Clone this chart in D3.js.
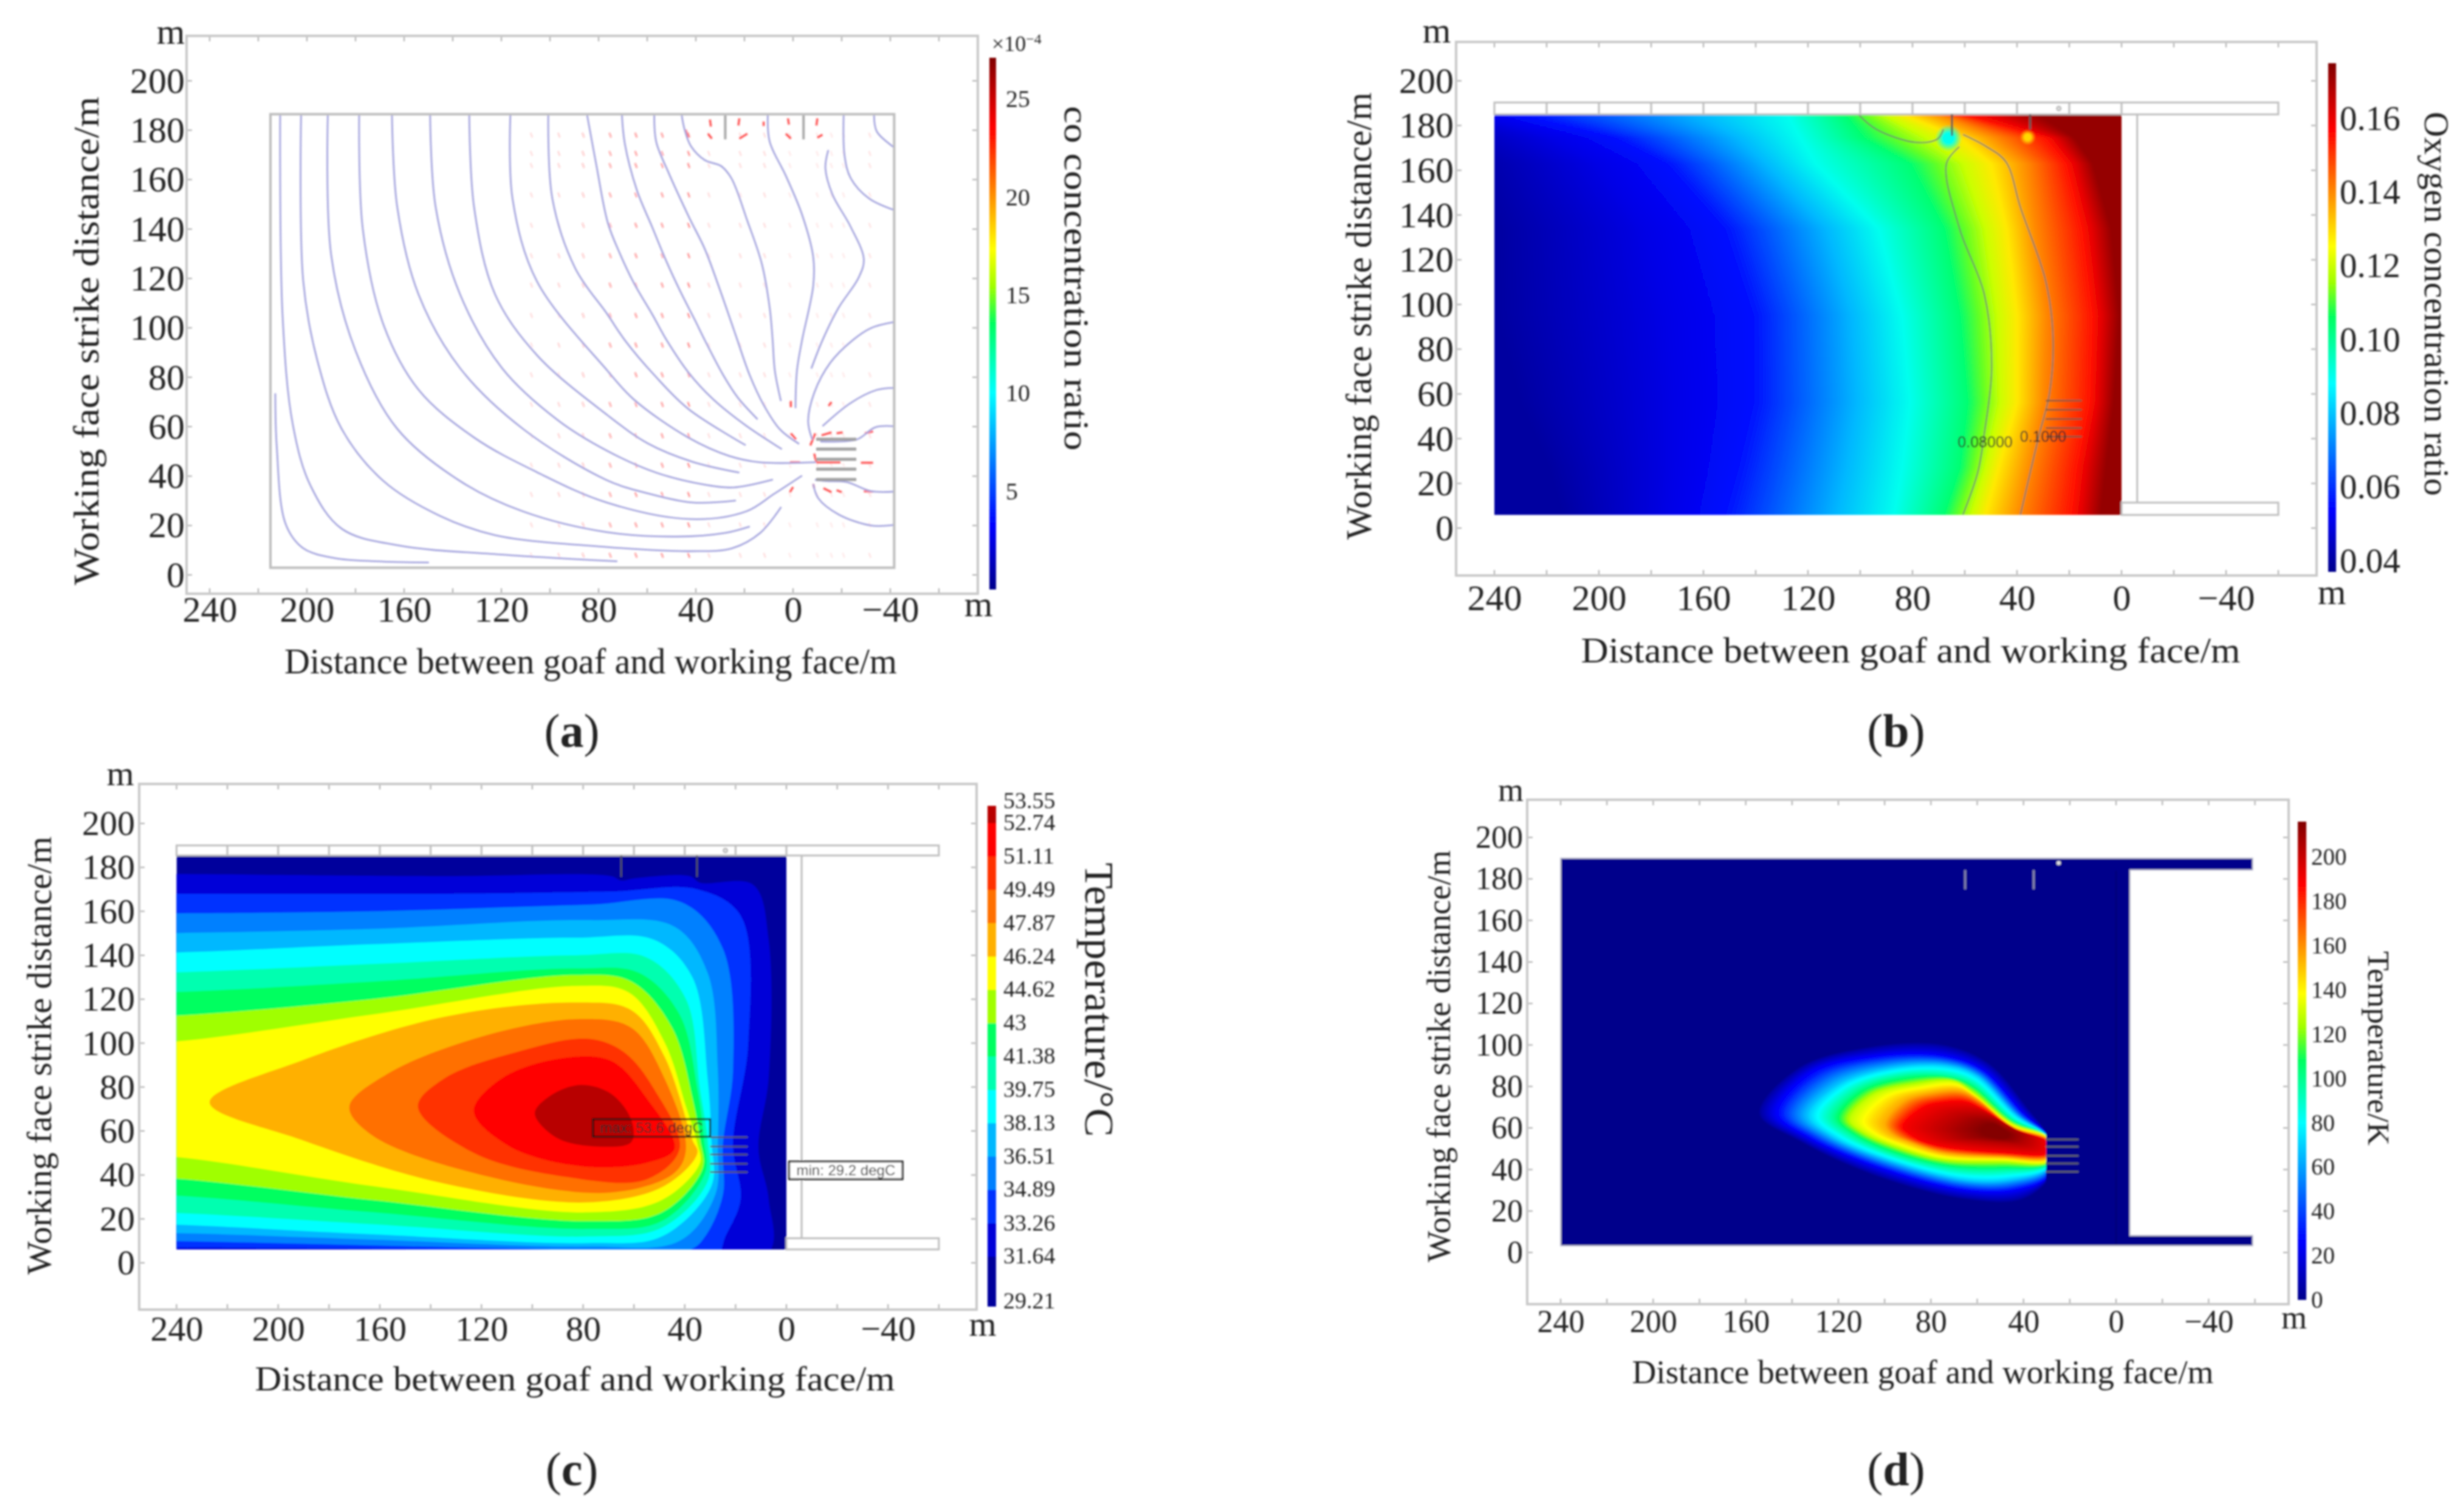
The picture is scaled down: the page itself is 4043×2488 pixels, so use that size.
<!DOCTYPE html>
<html>
<head>
<meta charset="utf-8">
<script src="https://cdn.jsdelivr.net/npm/d3@7"></script>
<style>
  html, body { margin: 0; background: #fff; }
  text { font-family: "Liberation Serif", serif; fill: #222; }
</style>
</head>
<body>
<div id="chart"></div>
<script>
// axis labels shared by the four panels
var xTicks = [240, 200, 160, 120, 80, 40, 0, -40],
    yTicks = [0, 20, 40, 60, 80, 100, 120, 140, 160, 180, 200],
    gridX = [240, 220, 200, 180, 160, 140, 120, 100, 80, 60, 40, 20, 0, -20, -40, -60],
    gridY = [200, 180, 160, 140, 120, 100, 80, 60, 40, 20, 0],
    xTitle = "Distance between goaf and working face/m",
    yTitle = "Working face strike distance/m";

// rainbow colour table, t in [0, 1]
var jetStops = [0, 0.12, 0.37, 0.5, 0.57, 0.64, 0.87, 1],
    jetColors = ["#00008b", "#0000ff", "#00ffff", "#00ff60", "#a0ff00", "#ffff00", "#ff0000", "#800000"];

// (a) co concentration: streamlines in chart units
var coTicks = [5, 10, 15, 20, 25],
    coRange = [0, 27.1],
    coLines = [
  [[213,73.5],[212.4,52],[208.7,20.5],[201.5,10.8],[188.6,6.8],[171.4,5.5],[149.8,5]],
  [[211,186],[210,104.8],[205.8,60.9],[198.6,36.3],[185.7,18.7],[162.8,12],[119.7,8.2],[72.3,5.5]],
  [[202.4,186],[201.5,118.9],[195.8,87.2],[185.7,59.1],[168.5,38],[145.5,24],[122.6,16.1],[76.7,11.3],[42.2,9.6],[25,10.8],[13.5,17],[4.9,27.5]],
  [[191.4,186],[190,129.4],[180,90.8],[162.8,59.1],[137,38],[111.1,25.7],[76.7,17.3],[47.9,15.5],[27.9,17],[17.8,19.6]],
  [[178.5,186],[177,140],[168.5,101.3],[154.1,75],[131.2,55.6],[105.4,41.6],[76.7,29.3],[42.2,22.6],[19.3,25.7],[7.8,32.8],[-3.7,40.2]],
  [[165,186],[162.8,148.7],[154.1,113.6],[137,83.7],[111.1,59.1],[76.7,38.4],[59.7,33],[41.4,29.3],[23.5,30.1]],
  [[149.3,186],[147,148.7],[137,113.6],[119.7,83.7],[96.7,62.6],[76.4,50.2],[56.3,41.4],[36.2,36.5],[24.7,35.4],[8.3,38.6]],
  [[133.2,186],[131.2,148.7],[122.6,113.6],[105.4,89],[76.4,64.7],[59.7,53.2],[41.4,45.8],[22.1,41.4]],
  [[116.3,186],[115.4,152.2],[105.4,118.9],[76.4,82.7],[65.5,71],[43.1,55.6],[26.4,48.2],[13.8,45.6],[-9.4,45.6]],
  [[100.7,186],[99,152.2],[89.6,124.1],[76.4,105.5],[69.2,95],[57.1,80.9],[43.1,67.2],[19.5,52.5]],
  [[84.7,186],[81,166.3],[76.2,142.5],[71.3,130.2],[65.4,118],[58,105.6],[52,95],[43,81.9],[33,71.2],[19.6,60.6],[4.6,50.9]],
  [[70.4,186],[69.2,174.5],[64.2,155.6],[58,140.9],[52.1,126.9],[46.3,114.6],[40.4,103.2],[36.3,95],[28.8,81],[22.9,72],[14.6,63]],
  [[57.1,186],[56.3,175.3],[51.3,163],[42.9,145],[36.3,131.9],[30.4,116.3],[24.6,99.9],[22.9,95],[17.9,81],[12.1,68.8],[5.4,58.9],[-2.5,53]],
  [[45.8,186],[44.6,180.2],[42.1,173.7],[36.3,167.9],[29.6,165.5],[25.4,160.6],[18.8,143.3],[12.9,126.1],[9.6,108],[8.4,95],[7.5,82.7],[5,70.4]],
  [[10.4,186],[9.6,175.3],[2.9,161.4],[-3.7,145.8],[-8.3,128.6],[-8.3,117.1],[-3.7,95],[-1.6,82.7],[-1,67.5]],
  [[-14.5,172],[-13.3,164.7],[-16.2,154],[-23.7,140.9],[-29.1,127.8],[-27,120.4],[-18.7,108.1],[-12.1,95],[-7.5,83.5]],
  [[-20.8,186],[-21.2,169.6],[-23.7,160.6],[-31.2,152.4],[-41.2,147.8]],
  [[-33.3,186],[-34.5,179.4],[-41.2,173.3]],
  [[-41.2,102.3],[-32,99.9],[-24.5,95],[-15.4,86],[-8.7,73.7],[-6.2,62.2],[-7.9,54.8]],
  [[-41.2,75.7],[-34.5,74.9],[-23.7,69.6],[-12.1,60.2]],
  [[-41.2,60.2],[-33.7,59.7],[-26.2,54.8],[-11.2,54]],
  [[-41.2,33.7],[-32,33.9],[-22,37.6],[-13.7,38],[-9,38.5]],
  [[-41.2,20.2],[-32,20],[-18.7,24.5],[-10.4,31],[-8.3,36.8]]
];
var coGates = [54.9, 50.9, 46.8, 42.8, 38.6],
    coStems = [27.9, -4.3],
    arrowCols = [108, 96.7, 86.7, 75.6, 65, 54.2, 43.3, 35, 22.1, 12.1, 1.7, -9.6, -15.4, -20.4, -31.2],
    arrowRows = [179, 171.6, 166.7, 154.8, 142.5, 130.2, 118.3, 106, 94, 82, 70, 57.3, 45.4, 33.5, 21.2, 8.9],
    arrowWeight = [0.12, 0.15, 0.22, 0.35, 0.4, 0.4, 0.45, 0.12, 0.12, 0.12, 0.08, 0.08, 0.08, 0.08, 0.1],
    coArrows = [
  [34.2,184.3,33.8,181.5],[22.1,184.8,22.5,181.9],[12.1,183.5,12.1,181.7],[2.1,184.8,1.7,182.3],[-10,184.8,-9.6,181.9],
  [44.2,180.2,43.3,177],[35,178.6,33.4,176.6],[22.1,176.6,18.8,178.6],[3,178.6,0.9,176.6],[-10,177,-12.1,178.2],
  [0.9,57.3,-1.2,54.8],[-7.1,52.4,-9.1,57.3],[-11.7,56.5,-15.8,57.7],[-17.9,57.3,-20.4,57.7],[-8.7,49.1,-9.5,45.8],
  [1.3,45.6,-2.9,45.6],[-9.5,45.6,-19.5,45.6],[-27.9,45.4,-32.9,45.4],[-8.3,36.8,-8.7,35.1],[-12.5,35.1,-15.8,33.5],
  [-17.9,34.3,-20,33.5],[0,35.6,1.3,33.5],[-14.6,68.4,-15.8,70],[0.9,70.4,0.9,67.9],[-29.5,57.3,-32.9,58.1],[-29.1,33.9,-32.9,33.7]
];

// (b) oxygen: distance where each level is reached, one row of distances per strike position
var oxTicks = [0.04, 0.06, 0.08, 0.10, 0.12, 0.14, 0.16],
    oxRange = [0.037, 0.175],
    oxLevels = [0.04, 0.055, 0.09, 0.104, 0.128, 0.14, 0.155, 0.172],
    oxRows = [185, 174.4, 162.8, 133.7, 94.8, 56, 26.9, 6],
    oxDist = [
  [277, 233, 128, 106, 84, 70, 61, 32],
  [264, 195, 123, 99, 62, 48, 29, 18],
  [250, 175, 117, 81, 50, 36, 21, 11],
  [240, 153, 93, 68, 44, 33, 15, 4],
  [239, 142, 84, 62, 40, 29, 11, 1],
  [230, 142, 81, 59, 40, 30, 12, 3],
  [219, 148, 84, 62, 47, 35, 17, 6],
  [214, 153, 87, 68, 52, 39, 19, 8]
];
var oxContours = [
  [[62,170.5],[67,163],[62,134],[52.5,104.5],[49.7,71.5],[52.5,42.4],[55,25],[60.7,6]],
  [[60.7,176],[51.6,170.5],[44.2,163.7],[38.7,143.4],[29,110.4],[26.2,85],[27.6,60],[31.8,40.5],[38.7,6]],
  [[100.7,185],[93.8,178.3],[78.7,172.5],[70.4,174],[68.2,178.3]]
];
var oxGates = [57, 52.9, 48.8, 44.8, 40.9],
    oxStems = [[64.9, 175.4], [35, 178.3]],
    oxBlobs = [[66.2, 174.4, 0.09], [35.9, 174.8, 0.13]],
    oxLabels = [[52.2, 38.5, "0.08000"], [30, 40.9, "0.1000"]];

// (c) temperature: filled contours, coolest first
var tempTicks = [29.21, 31.64, 33.26, 34.89, 36.51, 38.13, 39.75, 41.38, 43, 44.62, 46.24, 47.87, 49.49, 51.11, 52.74, 53.55],
    tempColors = ["#00009c", "#0000d8", "#0030ff", "#0080ff", "#00b8ff", "#00ffff", "#00ffb0", "#00ff60",
                  "#a0ff00", "#ffff00", "#ffb000", "#ff7000", "#ff3000", "#ff0000", "#b80000"],
    tempContours = [
  [[300,177],[248,177],[135,176],[69,176],[65,174],[60,175],[38,176],[34,173],[13,172],[7,147],[7,84],[11,52],[7,29],[8,3],[248,3],[300,3]],
  [[300,168],[248,168],[134,168],[69,169],[35,170],[18,158],[15,100],[21,54],[18,29],[24,12],[28,3],[134,6],[248,7],[300,7]],
  [[300,159],[248,159],[163,160],[78,163],[41,164],[25,143],[21,88],[25,54],[25,31],[32,12],[38,6],[106,6.6],[248,10],[300,10]],
  [[300,150],[248,150],[163,152],[78,156],[44,153],[31,132],[27,88],[27,54],[28,31],[42,10],[78,7.4],[163,10.6],[248,13.7],[300,13.7]],
  [[300,141],[248,141],[163,145],[83,148],[52,147],[37,130],[31,84],[29.5,56],[29.5,35],[49,12],[78,9],[163,13],[248,17.6],[300,17.6]],
  [[300,132],[248,132],[163,136],[83,140],[55,139],[39.5,120],[34,79],[31,56],[31,37],[49,16],[78,12],[163,17.6],[248,23],[300,23]],
  [[300,123],[248,123],[163,128],[83,134],[58,132],[42,113],[35,79],[32.4,56],[32,41],[49,19],[78,15.4],[163,23],[248,31],[300,31]],
  [[300,112],[248,112],[163,120],[83,131],[61,128],[45,107],[37,75],[34,56],[33,43],[49,23],[78,19],[163,28.6],[248,39],[300,39]],
  [[300,100],[248,100],[163,113],[83,126],[62,123],[48,100.5],[39.5,71],[35,54],[34,45.5],[49,28.6],[78,23],[163,35],[248,49],[300,49]],
  [[227,73],[191,92],[134.5,112],[83,118.5],[61,115],[48,94],[37,56],[35,50],[48,35],[78,27.5],[134.5,36],[191,56]],
  [[172,71],[157,86],[120,103],[81,111],[61,107],[48,84],[39.5,52],[44,41],[69,32],[120,40],[163,58]],
  [[145,71],[134.5,84],[106,96],[78,102],[64,96],[52,79],[42,52],[55,38],[86,39],[123,50]],
  [[123,69],[112,84],[89,93],[69,92],[55,75],[44,52],[55,45.5],[81,44],[109,53]],
  [[99,68],[93,76],[81,81],[69,77],[61,65],[61,55],[75,53],[90.5,57]]
];
var tempGates = [57.2, 52.9, 49.3, 45.1, 41.3],
    tempStems = [[65, 175.7], [35.2, 175.7]],
    tempBoxes = [[76.1, 65.4, 30, 57.4, "max: 53.6 degC"], [-1.1, 46.1, -45.7, 38.1, "min: 29.2 degC"]];

// (d) temperature rise: closed contours, same number of points on each
var heatTicks = [0, 20, 40, 60, 80, 100, 120, 140, 160, 180, 200],
    heatRange = [0, 216],
    heatLevels = [5, 25, 70, 100, 130, 155, 190, 205, 216],
    heatContours = [
  [[154,67],[137,89],[106,99],[75,100],[55,91],[38,69],[29,55],[28,38],[40,26],[66,26],[106,38],[137,54]],
  [[147,67],[132,87],[103,95],[75,95],[57.5,88],[40,67],[29,55],[29,37],[43,30],[66,30],[103,41],[134,56]],
  [[133,66],[120,81],[97,89],[73,90],[60,85],[43,66],[29,55],[29,41],[46,35],[66,35],[100,45],[123,56]],
  [[122,65],[112,78],[92,85],[73,85],[62,81],[45,64],[29,55],[29,43],[49,40],[72,41],[97,48],[114.5,57]],
  [[114.5,64],[104.5,76],[86,81],[70,82.5],[62,77],[45,62],[29,55],[29,44],[49,44],[75,45],[94.5,51],[109,58]],
  [[100,62],[92,73],[80,77],[67.5,78],[60,74],[45,60.5],[29,54],[29,46],[49,46],[75,48],[89,53],[97,57]],
  [[92,60.5],[83,70],[73,72.6],[65,72.6],[57.5,69],[43,59.4],[29,53],[29,48],[49,48],[75,51],[84.6,54],[89,57]],
  [[72,59.4],[66,65],[59,66],[53,65],[48,61.6],[42,58.3],[39,56],[40.4,53],[49,53],[60,54],[67.5,55],[70,57]],
  [[57.5,59.4],[54.7,61.6],[52,61.6],[50.4,60.5],[49,59.4],[47.6,58.3],[46.7,57],[47.6,55.6],[50.4,55],[53,55.6],[55.5,56.5],[57,58]]
];
var heatOutline = [[240,190],[-59,190],[-59,184.3],[-6,184.3],[-6,8.2],[-59,8.2],[-59,3.2],[240,3.2]],
    heatGates = [54.5, 51, 46.6, 42.9, 38.9],
    heatStems = [[65.2, 175], [35.6, 175]];

var jet = d3.scaleLinear().domain(jetStops).range(jetColors).clamp(true);

var svg = d3.select("#chart").append("svg")
    .attr("width", 4043)
    .attr("height", 2488);
var defs = svg.append("defs");

// the source image is an upscaled bitmap, a slight blur gets closer to it
defs.append("filter").attr("id", "soft")
    .attr("filterUnits", "userSpaceOnUse")
    .attr("x", 0).attr("y", 0).attr("width", 4043).attr("height", 2488)
  .append("feGaussianBlur").attr("stdDeviation", 1.4);

var root = svg.append("g").attr("filter", "url(#soft)");

function titleText(g, px, py, rotate, label, size, len) {
  return g.append("text")
      .attr("transform", "translate(" + px + "," + py + ") rotate(" + rotate + ")")
      .attr("text-anchor", "middle")
      .attr("textLength", len)
      .attr("lengthAdjust", "spacingAndGlyphs")
      .attr("font-size", size)
      .text(label);
}

function addPanel(o) {
  var g = root.append("g"),
      x = d3.scaleLinear().domain([240, 0]).range(o.x),
      y = d3.scaleLinear().domain([0, 200]).range(o.y),
      f = o.frame,
      ticks = g.append("g").attr("stroke", "#aaa").attr("stroke-width", 2);

  g.append("rect")
      .attr("x", f[0]).attr("y", f[2])
      .attr("width", f[1] - f[0]).attr("height", f[3] - f[2])
      .attr("fill", "none").attr("stroke", "#c8c8c8").attr("stroke-width", 4);

  ticks.selectAll(".tx").data(gridX.filter(function(d) { return x(d) > f[0] && x(d) < f[1]; }))
    .enter().append("path")
      .attr("d", function(d) {
        return "M" + x(d) + "," + f[3] + "v-9M" + x(d) + "," + f[2] + "v9";
      });
  ticks.selectAll(".ty").data(gridY.filter(function(d) { return y(d) > f[2] && y(d) < f[3]; }))
    .enter().append("path")
      .attr("d", function(d) {
        return "M" + f[0] + "," + y(d) + "h9M" + f[1] + "," + y(d) + "h-9";
      });

  g.append("g")
      .attr("transform", "translate(0," + f[3] + ")")
      .call(d3.axisBottom(x).tickValues(xTicks).tickSize(0).tickPadding(o.padX)
        .tickFormat(function(d) { return d < 0 ? "\u2212" + (-d) : d; }))
      .call(function(a) {
        a.select(".domain").remove();
        a.attr("font-family", null).attr("font-size", o.tickSize);
      });
  g.append("g")
      .attr("transform", "translate(" + f[0] + ",0)")
      .call(d3.axisLeft(y).tickValues(yTicks).tickSize(0).tickPadding(o.padY))
      .call(function(a) {
        a.select(".domain").remove();
        a.attr("font-family", null).attr("font-size", o.tickSize);
      });

  titleText(g, o.xTitle[0], o.xTitle[1], 0, xTitle, o.titleSize, o.xTitle[2]);
  titleText(g, o.yTitle[0], o.yTitle[1], -90, yTitle, o.titleSize, o.yTitle[2]);
  titleText(g, o.cTitle[0], o.cTitle[1], 90, o.cTitle[3], o.cTitle[4], o.cTitle[2]);

  g.selectAll(".unit").data(o.units)
    .enter().append("text")
      .attr("x", function(d) { return d[0]; })
      .attr("y", function(d) { return d[1]; })
      .attr("text-anchor", "middle")
      .attr("font-size", o.titleSize)
      .text("m");

  var lab = g.append("text")
      .attr("x", o.letter[0]).attr("y", o.letter[1])
      .attr("text-anchor", "middle")
      .attr("font-size", 78);
  lab.append("tspan").text("(");
  lab.append("tspan").attr("font-weight", "bold").text(o.letter[2]);
  lab.append("tspan").text(")");

  return {g: g, x: x, y: y};
}

// smooth colourbar with a right axis
function addColorbar(p, id, bar, range, ticks, fontSize, pad, fmt) {
  var scale = d3.scaleLinear().domain(range).range([bar[3], bar[2]]);
  var grad = defs.append("linearGradient").attr("id", id)
      .attr("x1", 0).attr("y1", 1).attr("x2", 0).attr("y2", 0);
  grad.selectAll("stop").data(jetStops).enter().append("stop")
      .attr("offset", function(d) { return d; })
      .attr("stop-color", function(d) { return jet(d); });
  p.g.append("rect")
      .attr("x", bar[0]).attr("y", bar[2])
      .attr("width", bar[1] - bar[0]).attr("height", bar[3] - bar[2])
      .attr("fill", "url(#" + id + ")");
  p.g.append("g")
      .attr("transform", "translate(" + bar[1] + ",0)")
      .call(d3.axisRight(scale).tickValues(ticks).tickSize(0).tickPadding(pad).tickFormat(fmt))
      .call(function(a) {
        a.select(".domain").remove();
        a.attr("font-family", null).attr("font-size", fontSize);
      });
  return scale;
}

function gateLines(p, gates, x0, x1, color, width) {
  p.g.append("g").selectAll("line").data(gates).enter().append("line")
      .attr("x1", p.x(x0)).attr("x2", p.x(x1))
      .attr("y1", function(d) { return p.y(d); })
      .attr("y2", function(d) { return p.y(d); })
      .attr("stroke", color).attr("stroke-width", width);
}

function stemLines(p, stems, top, color, width) {
  p.g.append("g").selectAll("line").data(stems).enter().append("line")
      .attr("x1", function(d) { return p.x(d[0]); })
      .attr("x2", function(d) { return p.x(d[0]); })
      .attr("y1", p.y(top))
      .attr("y2", function(d) { return p.y(d[1]); })
      .attr("stroke", color).attr("stroke-width", width);
}

function clipTo(id, p, x0, x1, yTop, yBottom) {
  defs.append("clipPath").attr("id", id).append("rect")
      .attr("x", p.x(x0)).attr("y", p.y(yTop))
      .attr("width", p.x(x1) - p.x(x0))
      .attr("height", p.y(yBottom) - p.y(yTop));
}

// white roadway strips of the COMSOL geometry around the goaf, in (b) and (c)
function roadway(p, top, face, stripEdge, bottom) {
  var g = p.g.append("g").attr("fill", "none").attr("stroke", "#bdbdbd").attr("stroke-width", 3);
  g.append("rect")
      .attr("x", p.x(240)).attr("y", p.y(top))
      .attr("width", p.x(-60) - p.x(240)).attr("height", p.y(face) - p.y(top));
  g.append("rect")
      .attr("x", p.x(0)).attr("y", p.y(stripEdge))
      .attr("width", p.x(-60) - p.x(0)).attr("height", p.y(bottom) - p.y(stripEdge));
  g.append("line")
      .attr("x1", p.x(-6)).attr("x2", p.x(-6))
      .attr("y1", p.y(face)).attr("y2", p.y(stripEdge));
  g.selectAll(".cut").data(gridX.filter(function(d) { return d >= 0 && d < 240; }))
    .enter().append("line")
      .attr("x1", function(d) { return p.x(d); })
      .attr("x2", function(d) { return p.x(d); })
      .attr("y1", p.y(top)).attr("y2", p.y(face));
  g.append("circle").attr("cx", p.x(24)).attr("cy", p.y((top + face) / 2)).attr("r", 3);
}

/* ---------- (a) ---------- */
var pa = addPanel({
  x: [345, 1305], y: [946, 133], frame: [307, 1609, 59, 977],
  padX: 3, padY: 3, tickSize: 60, titleSize: 60,
  xTitle: [972, 1108, 1008], yTitle: [162, 561, 804],
  cTitle: [1752, 458, 567, "co concentration ratio", 58],
  units: [[281, 72], [1610, 1014]],
  letter: [941, 1229, "a"]
});

pa.g.append("rect")
    .attr("x", pa.x(215)).attr("y", pa.y(186.5))
    .attr("width", pa.x(-41.6) - pa.x(215)).attr("height", pa.y(2.9) - pa.y(186.5))
    .attr("fill", "none").attr("stroke", "#bdbdbd").attr("stroke-width", 4);

var faint = [];
arrowRows.forEach(function(r) {
  arrowCols.forEach(function(c, i) { faint.push([c, r, arrowWeight[i]]); });
});
pa.g.append("g").selectAll("path").data(faint).enter().append("path")
    .attr("d", function(d) { return "M" + pa.x(d[0]) + "," + pa.y(d[1]) + "l3,8"; })
    .attr("stroke", "#ff2020").attr("stroke-width", 3)
    .attr("opacity", function(d) { return d[2]; });

pa.g.append("g").selectAll("line").data(coArrows).enter().append("line")
    .attr("x1", function(d) { return pa.x(d[0]); })
    .attr("y1", function(d) { return pa.y(d[1]); })
    .attr("x2", function(d) { return pa.x(d[2]); })
    .attr("y2", function(d) { return pa.y(d[3]); })
    .attr("stroke", "#ff2020").attr("stroke-width", 3.5).attr("opacity", 0.75);

var lineA = d3.line()
    .x(function(d) { return pa.x(d[0]); })
    .y(function(d) { return pa.y(d[1]); })
    .curve(d3.curveCatmullRom);
pa.g.append("g").selectAll("path").data(coLines).enter().append("path")
    .attr("d", lineA)
    .attr("fill", "none").attr("stroke", "#a4a4de").attr("stroke-width", 2.8);

gateLines(pa, coGates, -9.5, -26, "#a0a0a0", 5);
stemLines(pa, coStems.map(function(d) { return [d, 176.3]; }), 186, "#a8a8a8", 4);

addColorbar(pa, "barA", [1628, 1639, 95, 970], coRange, coTicks, 40, 16, function(d) { return d; });
var expo = pa.g.append("text").attr("x", 1632).attr("y", 84).attr("font-size", 36);
expo.append("tspan").text("\u00d710");
expo.append("tspan").attr("dy", -12).attr("font-size", 24).text("\u22124");

/* ---------- (b) ---------- */
var pb = addPanel({
  x: [2459, 3491], y: [869, 133], frame: [2396, 3812, 69, 947],
  padX: 14, padY: 4, tickSize: 60, titleSize: 60,
  xTitle: [3144, 1090, 1085], yTitle: [2256, 520, 736],
  cTitle: [3990, 500, 632, "Oxygen concentration ratio", 56],
  units: [[2364, 70], [3837, 994]],
  letter: [3120, 1229, "b"]
});

// one gradient per row, stops taken from the level table
var oxT = d3.scaleLinear().domain(oxRange).range([0, 1]);
var oxAt = oxLevels.map(function(v, i) {
  return d3.scaleLinear().domain(oxRows).range(oxDist.map(function(r) { return r[i]; }));
});
var rowStep = 0.75,
    rowYs = d3.range(5.9, 185, rowStep);

clipTo("clipB", pb, 240, 0, 185, 5.9);
var fieldB = pb.g.append("g").attr("clip-path", "url(#clipB)");

rowYs.forEach(function(ry, idx) {
  var px = oxAt.map(function(s) { return pb.x(s(ry)); }),
      x0 = px[0],
      x1 = px[px.length - 1],
      grad = defs.append("linearGradient").attr("id", "rowB" + idx)
          .attr("gradientUnits", "userSpaceOnUse")
          .attr("x1", x0).attr("x2", x1).attr("y1", 0).attr("y2", 0),
      stops = [];
  oxLevels.forEach(function(v, i) {
    if (i === oxLevels.length - 1) {
      stops.push([px[i], v]);
      return;
    }
    for (var k = 0; k < 3; k++) {
      stops.push([px[i] + (px[i + 1] - px[i]) * k / 3, v + (oxLevels[i + 1] - v) * k / 3]);
    }
  });
  grad.selectAll("stop").data(stops).enter().append("stop")
      .attr("offset", function(d) { return (d[0] - x0) / (x1 - x0); })
      .attr("stop-color", function(d) { return jet(oxT(d[1])); });
});

fieldB.selectAll(".row").data(rowYs).enter().append("rect")
    .attr("class", "row")
    .attr("x", pb.x(240))
    .attr("y", function(d) { return pb.y(d + rowStep); })
    .attr("width", pb.x(0) - pb.x(240))
    .attr("height", pb.y(0) - pb.y(rowStep) + 1)
    .attr("fill", function(d, i) { return "url(#rowB" + i + ")"; });

oxBlobs.forEach(function(b, i) {
  var grad = defs.append("radialGradient").attr("id", "blobB" + i);
  grad.append("stop").attr("offset", 0.4).attr("stop-color", jet(oxT(b[2])));
  grad.append("stop").attr("offset", 1).attr("stop-color", jet(oxT(b[2]))).attr("stop-opacity", 0);
  fieldB.append("circle")
      .attr("cx", pb.x(b[0])).attr("cy", pb.y(b[1]))
      .attr("r", i === 0 ? 22 : 13)
      .attr("fill", "url(#blobB" + i + ")");
});

var lineB = d3.line()
    .x(function(d) { return pb.x(d[0]); })
    .y(function(d) { return pb.y(d[1]); })
    .curve(d3.curveCatmullRom);
fieldB.append("g").selectAll("path").data(oxContours).enter().append("path")
    .attr("d", lineB)
    .attr("fill", "none").attr("stroke", "#6f7d6c").attr("stroke-width", 2);

roadway(pb, 190.3, 185, 11.4, 5.9);
stemLines(pb, oxStems, 185, "#555", 3);
gateLines(pb, oxGates, 29, 15.2, "#7a5a40", 2.5);

pb.g.append("g").selectAll("text").data(oxLabels).enter().append("text")
    .attr("x", function(d) { return pb.x(d[0]); })
    .attr("y", function(d) { return pb.y(d[1]); })
    .attr("dy", "0.35em")
    .attr("text-anchor", "middle")
    .attr("font-size", 25)
    .style("font-family", "'Liberation Sans', sans-serif")
    .text(function(d) { return d[2]; });

addColorbar(pb, "barB", [3831, 3844, 104, 941], oxRange, oxTicks, 57, 6, d3.format(".2f"));

/* ---------- (c) ---------- */
var pc = addPanel({
  x: [290.5, 1294], y: [2078, 1355], frame: [229, 1607, 1290, 2155],
  padX: 10, padY: 7, tickSize: 58, titleSize: 58,
  xTitle: [946, 2288, 1053], yTitle: [84, 1737, 721],
  cTitle: [1786, 1645, 451, "Temperature/\u00b0C", 68],
  units: [[198, 1292], [1617, 2198]],
  letter: [941, 2444, "c"]
});

clipTo("clipC", pc, 240, 0, 185.4, 6.1);
var fieldC = pc.g.append("g").attr("clip-path", "url(#clipC)");

fieldC.append("rect")
    .attr("x", pc.x(240)).attr("y", pc.y(185.4))
    .attr("width", pc.x(0) - pc.x(240)).attr("height", pc.y(6.1) - pc.y(185.4))
    .attr("fill", tempColors[0]);

var lineC = d3.line()
    .x(function(d) { return pc.x(d[0]); })
    .y(function(d) { return pc.y(d[1]); })
    .curve(d3.curveCatmullRomClosed.alpha(0.5));
fieldC.selectAll(".band").data(tempContours).enter().append("path")
    .attr("class", "band")
    .attr("d", lineC)
    .attr("fill", function(d, i) { return tempColors[i + 1]; });

roadway(pc, 190, 185.4, 11.2, 6.1);
stemLines(pc, tempStems, 185.4, "#555", 2.5);
gateLines(pc, tempGates, 30, 15.3, "#555", 2.5);

var boxes = pc.g.append("g").selectAll("g").data(tempBoxes).enter().append("g");
boxes.append("rect")
    .attr("x", function(d) { return pc.x(d[0]); })
    .attr("y", function(d) { return pc.y(d[1]); })
    .attr("width", function(d) { return pc.x(d[2]) - pc.x(d[0]); })
    .attr("height", function(d) { return pc.y(d[3]) - pc.y(d[1]); })
    .attr("fill", function(d, i) { return i ? "#fff" : "none"; })
    .attr("stroke", "#111").attr("stroke-width", 3);
boxes.append("text")
    .attr("x", function(d) { return (pc.x(d[0]) + pc.x(d[2])) / 2; })
    .attr("y", function(d) { return (pc.y(d[1]) + pc.y(d[3])) / 2; })
    .attr("dy", "0.35em")
    .attr("text-anchor", "middle")
    .attr("font-size", 24)
    .style("font-family", "'Liberation Sans', sans-serif")
    .text(function(d) { return d[4]; });

// stepped colourbar, labels nudged at the two ends as in the source
var tempScale = d3.scaleLinear().domain([29.21, 53.55]).range([2149, 1326]);
pc.g.append("g").selectAll("rect").data(d3.pairs(tempTicks)).enter().append("rect")
    .attr("x", 1625).attr("width", 14)
    .attr("y", function(d) { return tempScale(d[1]); })
    .attr("height", function(d) { return tempScale(d[0]) - tempScale(d[1]) + 1; })
    .attr("fill", function(d, i) { return tempColors[i]; });
pc.g.append("g").selectAll("text").data(tempTicks).enter().append("text")
    .attr("x", 1651)
    .attr("y", function(d, i) {
      return tempScale(d) + (i === 0 ? -9 : i === tempTicks.length - 1 ? -9 : 0);
    })
    .attr("dy", "0.33em")
    .attr("font-size", 38)
    .text(function(d) { return d; });

/* ---------- (d) ---------- */
var pd = addPanel({
  x: [2568, 3482], y: [2061, 1378], frame: [2513, 3766, 1316, 2146],
  padX: 9, padY: 7, tickSize: 52, titleSize: 54,
  xTitle: [3164, 2276, 957], yTitle: [2386, 1738, 678],
  cTitle: [3897, 1725, 320, "Temperature/K", 50],
  units: [[2486, 1318], [3775, 2186]],
  letter: [3120, 2444, "d"]
});

var lineD = d3.line()
    .x(function(d) { return pd.x(d[0]); })
    .y(function(d) { return pd.y(d[1]); });
pd.g.append("path")
    .datum(heatOutline)
    .attr("d", function(d) { return lineD(d) + "Z"; })
    .attr("fill", "#00008b")
    .attr("stroke", "#c4c4d4").attr("stroke-width", 2);

// in-between contours so the colour runs smoothly from level to level
var heatT = d3.scaleLinear().domain(heatRange).range([0, 1]),
    heatSteps = [],
    substeps = 12;
d3.pairs(d3.range(heatLevels.length)).forEach(function(pair) {
  var a = heatContours[pair[0]],
      b = heatContours[pair[1]],
      level = d3.interpolateNumber(heatLevels[pair[0]], heatLevels[pair[1]]);
  for (var s = 0; s < substeps; s++) {
    heatSteps.push({
      pts: a.map(function(pt, i) {
        return [pt[0] + (b[i][0] - pt[0]) * s / substeps, pt[1] + (b[i][1] - pt[1]) * s / substeps];
      }),
      level: level(s / substeps)
    });
  }
});

clipTo("clipD", pd, 240, 30.4, 185, 4);
var lineBlob = d3.line()
    .x(function(d) { return pd.x(d[0]); })
    .y(function(d) { return pd.y(d[1]); })
    .curve(d3.curveCatmullRomClosed.alpha(0.5));
pd.g.append("g").attr("clip-path", "url(#clipD)")
  .selectAll("path").data(heatSteps).enter().append("path")
    .attr("d", function(d) { return lineBlob(d.pts); })
    .attr("fill", function(d) { return jet(heatT(d.level)); });

pd.g.append("line")
    .attr("x1", pd.x(0)).attr("x2", pd.x(0))
    .attr("y1", pd.y(184)).attr("y2", pd.y(4))
    .attr("stroke", "#000070").attr("stroke-width", 2);
stemLines(pd, heatStems, 184.3, "#8a8ab0", 3);
gateLines(pd, heatGates, 30.4, 16.2, "#666", 2.5);
pd.g.append("circle")
    .attr("cx", pd.x(24.8)).attr("cy", pd.y(187.7)).attr("r", 3.5)
    .attr("fill", "#ddd");

addColorbar(pd, "barD", [3781, 3795, 1352, 2139], heatRange, heatTicks, 39, 8, function(d) { return d; });
</script>
</body>
</html>
